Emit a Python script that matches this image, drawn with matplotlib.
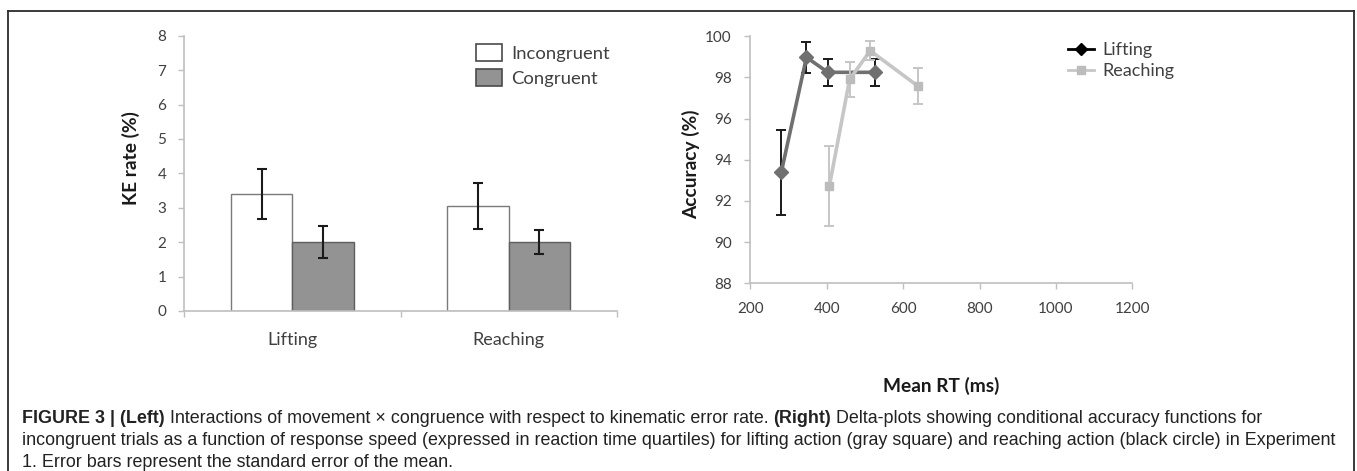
import numpy as np
import matplotlib
matplotlib.use('Agg')
import matplotlib.pyplot as plt
from matplotlib.lines import Line2D
from matplotlib.patches import Patch

# left panel: kinematic error rate
movements = ['Lifting', 'Reaching']
ke_incongruent = [3.40, 3.04]
ke_incongruent_se = [0.74, 0.67]
ke_congruent = [2.00, 2.00]
ke_congruent_se = [0.47, 0.35]

# right panel: conditional accuracy functions
lift_rt = [281, 347, 403, 527]
lift_acc = [93.39, 98.98, 98.25, 98.25]
lift_se = [2.05, 0.76, 0.66, 0.66]
reach_rt = [407, 460, 514, 638]
reach_acc = [92.73, 97.91, 99.30, 97.59]
reach_se = [1.94, 0.86, 0.46, 0.87]

W, H = 1357, 471
fig = plt.figure(figsize=(W / 100, H / 100), dpi=100)
tick_font = 'Lato'
axis_gray = '#bfbfbf'
txt_col = '#404040'

def fx(px):
    return px / W

def fy(py):
    return 1 - py / H

# ---------- left: bars ----------
ax1 = fig.add_axes([fx(184.3), fy(311), fx(616.7 - 184.3), (311 - 35.7) / H])
x = np.arange(len(movements))
bw = 0.285
ax1.bar(x - bw / 2, ke_incongruent, bw, color='white', edgecolor='#7a7a7a', linewidth=1.0, zorder=2)
ax1.bar(x + bw / 2, ke_congruent, bw, color='#939393', edgecolor='#5e5e5e', linewidth=1.0, zorder=2)
ax1.errorbar(x - bw / 2, ke_incongruent, yerr=ke_incongruent_se, fmt='none', ecolor='#1a1a1a',
             elinewidth=1.5, capsize=3.5, capthick=1.5, zorder=3)
ax1.errorbar(x + bw / 2, ke_congruent, yerr=ke_congruent_se, fmt='none', ecolor='#1a1a1a',
             elinewidth=1.5, capsize=3.5, capthick=1.5, zorder=3)
ax1.set_xlim(-0.5, 1.5)
ax1.set_ylim(0, 8)
ax1.set_yticks(range(0, 9))
ax1.set_xticks(x)
ax1.set_xticklabels(movements)
ax1.set_xticks([-0.5, 0.5, 1.5], minor=True)
ax1.tick_params(axis='x', which='major', length=0, pad=15, labelsize=13, labelcolor=txt_col)
ax1.tick_params(axis='x', which='minor', length=4.5, width=1, color=axis_gray, direction='out')
ax1.tick_params(axis='y', length=4, width=1, color=axis_gray, pad=9, labelsize=11, labelcolor=txt_col)
for s in ['top', 'right']:
    ax1.spines[s].set_visible(False)
for s in ['left', 'bottom']:
    ax1.spines[s].set_color(axis_gray)
    ax1.spines[s].set_linewidth(1.2)
for lab in ax1.get_xticklabels() + ax1.get_yticklabels():
    lab.set_fontfamily(tick_font)
fig.text(fx(131), fy(158), 'KE rate (%)', rotation=90, ha='center', va='center',
         fontsize=13.8, fontweight='bold', family=tick_font, color='#1a1a1a')
leg1 = ax1.legend(handles=[Patch(facecolor='white', edgecolor='#4a4a4a', linewidth=1.2, label='Incongruent'),
                           Patch(facecolor='#939393', edgecolor='#4a4a4a', linewidth=1.2, label='Congruent')],
                  loc='upper left', bbox_to_anchor=(fx(475.7), fy(44)), bbox_transform=fig.transFigure,
                  frameon=False, borderpad=0, borderaxespad=0, handlelength=1.4, handleheight=1.0,
                  handletextpad=0.5, labelspacing=0.42, prop={'family': tick_font, 'size': 13.3})
for t in leg1.get_texts():
    t.set_color(txt_col)

# ---------- right: accuracy lines ----------
ax2 = fig.add_axes([fx(750.3), fy(283.3), fx(1132.3 - 750.3), (283.3 - 36.3) / H])
ax2.errorbar(lift_rt, lift_acc, yerr=lift_se, fmt='none', ecolor='#1a1a1a',
             elinewidth=1.4, capsize=3.5, capthick=1.4, zorder=2)
ax2.plot(lift_rt, lift_acc, color='#707070', lw=2.6, marker='D', ms=7.5, mfc='#707070', mec='#707070', zorder=3)
ax2.errorbar(reach_rt, reach_acc, yerr=reach_se, fmt='none', ecolor='#c6c6c6',
             elinewidth=1.4, capsize=3.5, capthick=1.4, zorder=4)
ax2.plot(reach_rt, reach_acc, color='#c6c6c6', lw=2.6, marker='s', ms=6, mfc='#bcbcbc', mec='#bcbcbc', zorder=5)
ax2.set_xlim(200, 1200)
ax2.set_ylim(88, 100)
ax2.set_xticks(range(200, 1201, 200))
ax2.set_yticks(range(88, 101, 2))
ax2.tick_params(axis='both', length=4.5, width=1, color=axis_gray, labelsize=11, labelcolor=txt_col)
ax2.tick_params(axis='y', pad=9)
ax2.tick_params(axis='x', pad=9)
for s in ['top', 'right']:
    ax2.spines[s].set_visible(False)
for s in ['left', 'bottom']:
    ax2.spines[s].set_color(axis_gray)
    ax2.spines[s].set_linewidth(1.2)
for lab in ax2.get_xticklabels() + ax2.get_yticklabels():
    lab.set_fontfamily(tick_font)
fig.text(fx(691), fy(164), 'Accuracy (%)', rotation=90, ha='center', va='center',
         fontsize=13.8, fontweight='bold', family=tick_font, color='#1a1a1a')
fig.text(fx(941), fy(386), 'Mean RT (ms)', ha='center', va='center',
         fontsize=13.8, fontweight='bold', family=tick_font, color='#1a1a1a')
leg2 = ax2.legend(handles=[Line2D([], [], color='black', lw=2, marker='D', ms=6, label='Lifting'),
                           Line2D([], [], color='#c6c6c6', lw=2, marker='s', ms=6, mfc='#bcbcbc',
                                  mec='#bcbcbc', label='Reaching')],
                  loc='upper left', bbox_to_anchor=(fx(1068), fy(42)), bbox_transform=fig.transFigure,
                  frameon=False, borderpad=0, borderaxespad=0, handlelength=1.45,
                  handletextpad=0.45, labelspacing=0.3, prop={'family': tick_font, 'size': 13})
for t in leg2.get_texts():
    t.set_color(txt_col)

# ---------- border ----------
border = dict(color='#2b2b2b', lw=1.3, transform=fig.transFigure)
fig.add_artist(Line2D([fx(8), fx(8)], [0, fy(11)], **border))
fig.add_artist(Line2D([fx(8), fx(1354)], [fy(11), fy(11)], **border))
fig.add_artist(Line2D([fx(1354), fx(1354)], [0, fy(11)], **border))

# ---------- caption ----------
cap_font = 'Liberation Sans'
cap_col = '#222222'
line1 = [('FIGURE 3 | (Left)', 'bold'),
         (' Interactions of movement \u00d7 congruence with respect to kinematic error rate. ', 'normal'),
         ('(Right)', 'bold'),
         (' Delta-plots showing conditional accuracy functions for', 'normal')]
line2 = [('incongruent trials as a function of response speed (expressed in reaction time quartiles) '
          'for lifting action (gray square) and reaching action (black circle) in Experiment', 'normal')]
line3 = [('1. Error bars represent the standard error of the mean.', 'normal')]

renderer = fig.canvas.get_renderer()
probe = fig.text(0, 0, line2[0][0], fontsize=10, family=cap_font)
w10 = probe.get_window_extent(renderer).width
probe.remove()
cap_size = 10 * (1337 - 22) / w10

for pieces, base in [(line1, 423), (line2, 445), (line3, 467)]:
    xpos = 22
    for s, wt in pieces:
        t = fig.text(fx(xpos), fy(base), s, fontsize=cap_size, fontweight=wt,
                     family=cap_font, color=cap_col, va='baseline', ha='left')
        xpos += t.get_window_extent(renderer).width

fig.savefig('out.png', dpi=100)
